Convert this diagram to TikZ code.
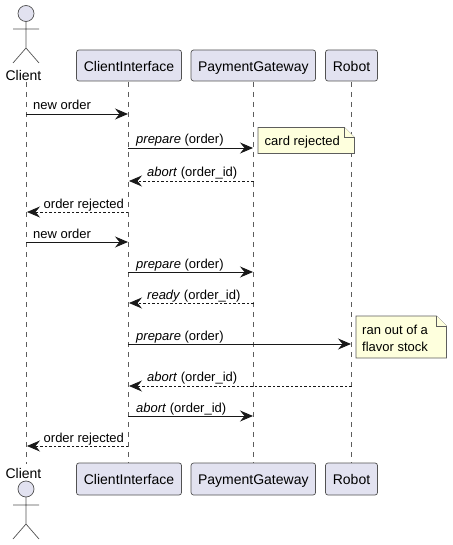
\documentclass[tikz,border=0pt]{standalone}
\usepackage{fontspec}
\setmainfont{Liberation Sans}
\usetikzlibrary{arrows.meta}
\definecolor{partfill}{HTML}{E2E2F0}
\definecolor{notefill}{HTML}{FEFFDD}
\definecolor{umlline}{HTML}{181818}
\tikzset{
  part/.style={draw=umlline!75,line width=0.7pt,fill=partfill,rounded corners=2.5pt,minimum height=31pt,inner sep=0pt,font=\fontsize{14}{16}\selectfont,anchor=center,text height=13pt,text depth=0pt},
  partlow/.style={part,minimum height=32pt,text height=10.5pt},
  lifeline/.style={draw=umlline!70,line width=0.6pt,dash pattern=on 5pt off 5pt},
  msg/.style={draw=umlline,line width=0.9pt,-{Stealth[length=13pt,width=11pt,inset=4.5pt]}},
  reply/.style={msg,dash pattern=on 2.5pt off 2pt,line width=0.7pt},
  lbl/.style={font=\fontsize{13}{15}\selectfont,inner sep=0pt,anchor=base west},
  actorline/.style={draw=umlline!75,line width=0.7pt},
  actorhead/.style={draw=umlline!75,line width=0.7pt,fill=partfill},
  actorname/.style={font=\fontsize{14}{16}\selectfont,inner sep=0pt},
  notebody/.style={draw=umlline!70,line width=0.6pt,fill=notefill},
  notetext/.style={font=\fontsize{13}{17}\selectfont,inner sep=0pt,anchor=west,align=left}
}
\begin{document}
\begin{tikzpicture}[x=1pt,y=-1pt]
\useasboundingbox (0,0) rectangle (452,545);
% participants
\node[part,minimum width=105pt] (ci1) at (129,65.5) {ClientInterface};
\node[part,minimum width=124.5pt] (pg1) at (253.3,65.5) {PaymentGateway};
\node[part,minimum width=52pt] (ro1) at (351.5,65.5) {Robot};
\node[partlow,minimum width=105pt] (ci2) at (129,479) {ClientInterface};
\node[partlow,minimum width=124.5pt] (pg2) at (253.3,479) {PaymentGateway};
\node[partlow,minimum width=52pt] (ro2) at (351.5,479) {Robot};
\node[actorname] (cl1) at (23.5,75) {Client};
\node[actorname] (cl2) at (23.5,473) {Client};
\coordinate (ca) at (26.3,82);
\coordinate (cb) at (26.3,464);
\coordinate (ia) at (128.3,82);
\coordinate (ib) at (128.3,463);
\coordinate (pa) at (253.5,82);
\coordinate (pb) at (253.5,463);
\coordinate (ra) at (351.5,82);
\coordinate (rb) at (351.5,463);
% lifelines
\draw[lifeline] (ca) -- (cb);
\draw[lifeline] (ia) -- (ib);
\draw[lifeline] (pa) -- (pb);
\draw[lifeline] (ra) -- (rb);
% actors
\draw[actorhead] (26,13.5) circle (8);
\draw[actorline] (26,21.5) -- (26,48) (13,29) -- (39,29) (26,48) -- (13,63) (26,48) -- (39,63);
\draw[actorhead] (26,489) circle (8);
\draw[actorline] (26,497) -- (26,524) (13,505) -- (39,505) (26,524) -- (13,539) (26,524) -- (39,539);
% notes
\draw[notebody] (258,127.5) -- (344.5,127.5) -- (354.5,137.5) -- (354.5,153.5) -- (258,153.5) -- cycle;
\draw[notebody] (344.5,127.5) -- (344.5,137.5) -- (354.5,137.5);
\node[notetext] (n1) at (264.5,142.5) {card rejected};
\draw[notebody] (356,316) -- (436.5,316) -- (446.5,326) -- (446.5,358) -- (356,358) -- cycle;
\draw[notebody] (436.5,316) -- (436.5,326) -- (446.5,326);
\node[notetext] (n2) at (362,338.5) {ran out of a\\flavor stock};
% messages
\coordinate (m1a) at (26.3,114);  \coordinate (m1b) at (128,114);
\draw[msg] (m1a) -- (m1b);
\node[lbl] (t1) at (33,110) {new order};
\coordinate (m2a) at (128.3,148);  \coordinate (m2b) at (253,148);
\draw[msg] (m2a) -- (m2b);
\node[lbl] (t2) at (136,144) {\itshape prepare\/ \upshape(order)};
\coordinate (m3a) at (253.5,181);  \coordinate (m3b) at (129,181);
\draw[reply] (m3a) -- (m3b);
\node[lbl] (t3) at (147,177) {\itshape abort\/ \upshape(order\_id)};
\coordinate (m4a) at (128.3,212);  \coordinate (m4b) at (27,212);
\draw[reply] (m4a) -- (m4b);
\node[lbl] (t4) at (43.5,208) {order rejected};
\coordinate (m5a) at (26.3,242);  \coordinate (m5b) at (128,242);
\draw[msg] (m5a) -- (m5b);
\node[lbl] (t5) at (33,238) {new order};
\coordinate (m6a) at (128.3,272);  \coordinate (m6b) at (253,272);
\draw[msg] (m6a) -- (m6b);
\node[lbl] (t6) at (136,268) {\itshape prepare\/ \upshape(order)};
\coordinate (m7a) at (253.5,303);  \coordinate (m7b) at (129,303);
\draw[reply] (m7a) -- (m7b);
\node[lbl] (t7) at (147,299) {\itshape ready\/ \upshape(order\_id)};
\coordinate (m8a) at (128.3,344);  \coordinate (m8b) at (351,344);
\draw[msg] (m8a) -- (m8b);
\node[lbl] (t8) at (136,340) {\itshape prepare\/ \upshape(order)};
\coordinate (m9a) at (351.5,386);  \coordinate (m9b) at (129,386);
\draw[reply] (m9a) -- (m9b);
\node[lbl] (t9) at (147,381) {\itshape abort\/ \upshape(order\_id)};
\coordinate (m10a) at (128.3,416);  \coordinate (m10b) at (253,416);
\draw[msg] (m10a) -- (m10b);
\node[lbl] (t10) at (136,412) {\itshape abort\/ \upshape(order\_id)};
\coordinate (m11a) at (128.3,446);  \coordinate (m11b) at (27,446);
\draw[reply] (m11a) -- (m11b);
\node[lbl] (t11) at (43.5,442) {order rejected};
\end{tikzpicture}
\end{document}
